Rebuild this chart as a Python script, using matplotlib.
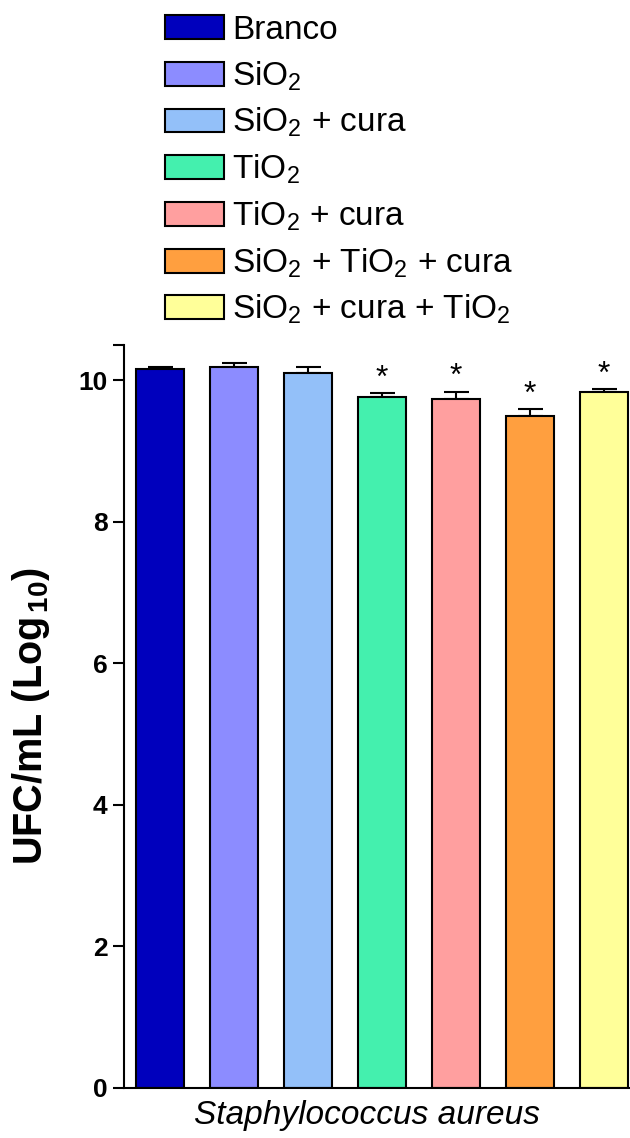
import numpy as np
import matplotlib.pyplot as plt
from matplotlib.patches import Patch

plt.rcParams['font.family'] = ['Liberation Sans', 'DejaVu Sans']
plt.rcParams['mathtext.fontset'] = 'custom'
plt.rcParams['mathtext.rm'] = 'Liberation Sans'
plt.rcParams['mathtext.it'] = 'Liberation Sans:italic'
plt.rcParams['mathtext.bf'] = 'Liberation Sans:bold'

# data
groups = ['Branco', 'SiO$_2$', 'SiO$_2$ + cura', 'TiO$_2$', 'TiO$_2$ + cura',
          'SiO$_2$ + TiO$_2$ + cura', 'SiO$_2$ + cura + TiO$_2$']
means = [10.16, 10.18, 10.10, 9.76, 9.73, 9.50, 9.84]
errors = [0.02, 0.06, 0.08, 0.06, 0.11, 0.09, 0.03]
signif = [False, False, False, True, True, True, True]
colors = ['#0000BD', '#8C8CFF', '#93C0F9', '#44F0AE', '#FF9F9F', '#FF9F3F', '#FFFF99']

fig = plt.figure(figsize=(6.3, 11.38), dpi=100)
ax = fig.add_axes([0.197, 0.044, 0.803, 0.653])

x = np.arange(len(groups))
ax.bar(x, means, width=0.65, color=colors, edgecolor='black', linewidth=1.5, zorder=2)
ax.errorbar(x, means, yerr=[np.zeros(len(errors)), errors], fmt='none',
            ecolor='black', elinewidth=1.5, capsize=9, capthick=1.5, zorder=1)

for xi, m, e, s in zip(x, means, errors, signif):
    if s:
        ax.text(xi, m + e + 0.09, '*', ha='center', va='baseline', fontsize=23)

ax.set_xlim(-0.486, 6.35)
ax.set_ylim(0, 10.5)
ax.set_yticks([0, 2, 4, 6, 8, 10, 10.5])
ax.set_yticklabels(['0', '2', '4', '6', '8', '10', ''])
for lab in ax.get_yticklabels():
    lab.set_fontweight('bold')
ax.tick_params(axis='y', direction='out', length=8, width=1.5, labelsize=19, pad=4)
ax.set_xticks([])
for sp in ['top', 'right']:
    ax.spines[sp].set_visible(False)
ax.spines['left'].set_linewidth(1.5)
ax.spines['bottom'].set_linewidth(1.5)

ax.set_ylabel(r'UFC/mL (Log$_{\mathbf{\,10}}$)', fontsize=28.5, fontweight='bold', labelpad=19)
ax.set_xlabel('Staphylococcus aureus', fontsize=24, style='italic')
ax.xaxis.set_label_coords(0.48, -0.016)

handles = [Patch(facecolor=c, edgecolor='black', linewidth=1.5) for c in colors]
fig.legend(handles, groups, loc='upper left', bbox_to_anchor=(165 / 630, 1 - 15 / 1138),
           frameon=False, fontsize=24, handlelength=1.77, handleheight=0.72,
           handletextpad=0.25, labelspacing=0.4, borderpad=0, borderaxespad=0)

plt.savefig('out.png', dpi=100)
